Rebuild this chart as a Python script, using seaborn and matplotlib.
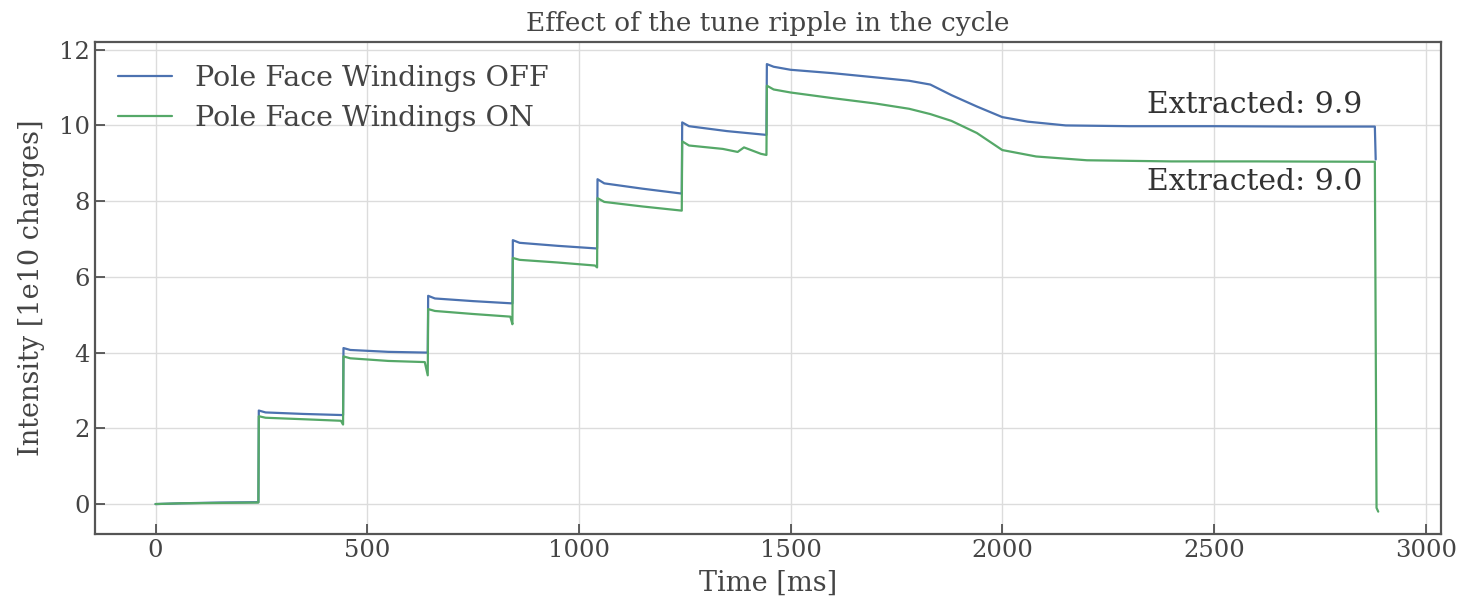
import numpy as np
import pandas as pd
import matplotlib
matplotlib.use("Agg")
import matplotlib.pyplot as plt
import seaborn as sns

# Key points (time in ms, intensity in 1e10 charges)
time_off = [0, 60, 150, 243, 244, 260, 350, 443, 444, 460, 550, 643, 644, 660, 750, 843, 844, 860,
            950, 1043, 1044, 1060, 1150, 1243, 1244, 1260, 1350, 1443, 1444, 1460, 1500, 1600, 1700,
            1780, 1830, 1880, 1940, 2000, 2060, 2150, 2300, 2500, 2700, 2880, 2882]
int_off = [0.0, 0.02, 0.04, 0.05, 2.47, 2.42, 2.38, 2.35, 4.12, 4.07, 4.02, 4.0, 5.5, 5.43, 5.36,
           5.3, 6.97, 6.9, 6.82, 6.75, 8.58, 8.47, 8.33, 8.2, 10.08, 9.98, 9.85, 9.75, 11.62, 11.55,
           11.47, 11.38, 11.27, 11.18, 11.08, 10.8, 10.5, 10.22, 10.1, 10.0, 9.98, 9.98, 9.97,
           9.97, 9.1]

time_on = [0, 60, 150, 243, 244, 260, 350, 438, 443, 444, 460, 550, 636, 643, 644, 660, 750, 838,
           843, 844, 860, 950, 1038, 1043, 1044, 1060, 1150, 1243, 1244, 1260, 1340, 1375, 1390,
           1430, 1443, 1444, 1460, 1500, 1600, 1700, 1780, 1830, 1880, 1940, 2000, 2080, 2200,
           2400, 2600, 2880, 2884, 2888]
int_on = [0.0, 0.02, 0.03, 0.04, 2.32, 2.28, 2.24, 2.2, 2.1, 3.9, 3.85, 3.78, 3.75, 3.4, 5.15,
          5.1, 5.02, 4.95, 4.75, 6.5, 6.45, 6.38, 6.3, 6.25, 8.08, 7.98, 7.86, 7.75, 9.58,
          9.47, 9.38, 9.3, 9.42, 9.25, 9.22, 11.05, 10.95, 10.87, 10.72, 10.58, 10.44, 10.3,
          10.12, 9.8, 9.35, 9.18, 9.08, 9.05, 9.05, 9.04, -0.1, -0.2]

labels = ["Pole Face Windings OFF", "Pole Face Windings ON"]
annot_text = ["Extracted: 9.9", "Extracted: 9.0"]
annot_y = [10.55, 8.5]
annot_x = 2850

df = pd.concat([
    pd.DataFrame({"Time": time_off, "Intensity": int_off, "series": labels[0]}),
    pd.DataFrame({"Time": time_on, "Intensity": int_on, "series": labels[1]}),
], ignore_index=True)

sns.set_theme(style="whitegrid")
plt.rcParams["font.family"] = ["DejaVu Serif"]
plt.rcParams.update({
    "axes.edgecolor": "#555555",
    "axes.linewidth": 1.6,
    "grid.color": "#dcdcdc",
    "grid.linewidth": 1.0,
    "xtick.direction": "in",
    "ytick.direction": "in",
    "xtick.bottom": True,
    "ytick.left": True,
    "xtick.major.size": 7,
    "ytick.major.size": 7,
    "xtick.color": "#444444",
    "ytick.color": "#444444",
    "text.color": "#444444",
    "axes.labelcolor": "#444444",
})

fig = plt.figure(figsize=(14.7, 6.02), dpi=100)
ax = fig.add_axes([0.0646, 0.113, 0.9156, 0.817])

palette = {labels[0]: "#4C72B0", labels[1]: "#55A868"}
sns.lineplot(data=df, x="Time", y="Intensity", hue="series", palette=palette,
             sort=False, estimator=None, linewidth=1.6, ax=ax)

ax.set_xlim(-143, 3036)
ax.set_ylim(-0.79, 12.2)
ax.set_xticks([0, 500, 1000, 1500, 2000, 2500, 3000])
ax.set_yticks([0, 2, 4, 6, 8, 10, 12])
ax.tick_params(labelsize=17.5, width=1.2)
ax.set_xlabel("Time [ms]", fontsize=19.5, labelpad=6)
ax.set_ylabel("Intensity [1e10 charges]", fontsize=19.5, labelpad=10)
ax.set_title("Effect of the tune ripple in the cycle", fontsize=19, pad=8)

for txt, yv in zip(annot_text, annot_y):
    ax.text(annot_x, yv, txt, ha="right", va="center", fontsize=21.5, color="#333333")

leg = ax.legend(loc="upper left", frameon=False, fontsize=20.5, handlelength=1.9,
                handletextpad=0.8, borderaxespad=0.4, labelspacing=0.45)
leg.set_title(None)

fig.savefig("out.png", dpi=100)
